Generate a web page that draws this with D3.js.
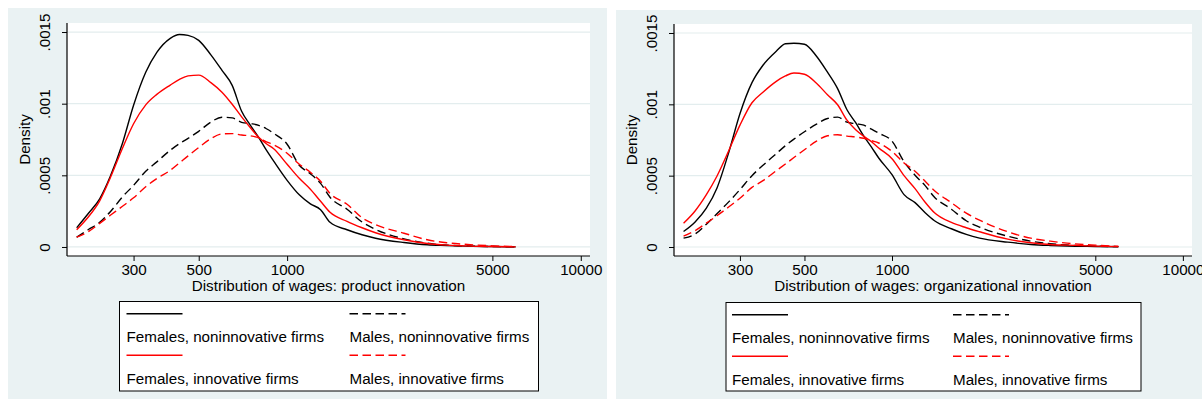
<!DOCTYPE html>
<html><head><meta charset="utf-8">
<script src="https://cdn.jsdelivr.net/npm/d3@7"></script>
<style>
html,body{margin:0;padding:0;background:#fff;}
svg{display:block;}
text{font-family:"Liberation Sans",Arial,Helvetica,sans-serif;}
</style>
</head><body>
<svg id="c" width="1202" height="403"></svg>
<script>
// ---------- data ----------
const wages = [192,210,230,250,275,300,330,360,400,430,460,500,550,600,650,700,750,800,850,900,1000,1100,1200,1300,1400,1600,1800,2000,2500,3000,3500,4000,5000,6000];

const yTicks = [0, 0.0005, 0.001, 0.0015];
const yTickLabels = ["0", ".0005", ".001", ".0015"];
const xTicks = [300, 500, 1000, 5000, 10000];
const xTickLabels = ["300", "500", "1000", "5000", "10000"];
const seriesNames = ["Females, noninnovative firms", "Males, noninnovative firms", "Females, innovative firms", "Males, innovative firms"];
const panelTitles = ["Distribution of wages: product innovation", "Distribution of wages: organizational innovation"];

// product innovation panel
const prodFemalesNon = [0.000134,0.000232,0.000336,0.000493,0.000724,0.000989,0.001219,0.001358,0.001456,0.001483,0.001477,0.001442,0.001341,0.001233,0.001128,0.000947,0.000849,0.000765,0.000675,0.000599,0.000465,0.000364,0.000301,0.000260,0.000172,0.000120,0.000085,0.000061,0.000031,0.000015,0.000010,0.000006,0.000003,0.000001];
const prodMalesNon   = [0.000068,0.000120,0.000172,0.000246,0.000350,0.000430,0.000528,0.000594,0.000675,0.000721,0.000758,0.000807,0.000872,0.000905,0.000901,0.000870,0.000861,0.000849,0.000825,0.000793,0.000717,0.000570,0.000511,0.000444,0.000347,0.000263,0.000174,0.000123,0.000057,0.000026,0.000012,0.000008,0.000003,0.000001];
const prodFemalesInn = [0.000120,0.000207,0.000322,0.000483,0.000689,0.000860,0.000992,0.001065,0.001130,0.001170,0.001194,0.001199,0.001147,0.001080,0.000996,0.000908,0.000832,0.000765,0.000720,0.000685,0.000577,0.000479,0.000403,0.000319,0.000242,0.000179,0.000134,0.000099,0.000050,0.000024,0.000013,0.000008,0.000003,0.000001];
const prodMalesInn   = [0.000068,0.000106,0.000165,0.000221,0.000284,0.000343,0.000420,0.000477,0.000535,0.000587,0.000636,0.000694,0.000756,0.000789,0.000791,0.000781,0.000776,0.000762,0.000734,0.000713,0.000654,0.000577,0.000521,0.000458,0.000373,0.000298,0.000204,0.000156,0.000096,0.000050,0.000029,0.000019,0.000008,0.000003];

// organizational innovation panel
const orgFemalesNon = [0.000109,0.000174,0.000272,0.000412,0.000668,0.000934,0.001152,0.001274,0.001372,0.001425,0.001428,0.001421,0.001337,0.001225,0.001110,0.000962,0.000871,0.000777,0.000700,0.000624,0.000507,0.000367,0.000311,0.000240,0.000184,0.000128,0.000088,0.000062,0.000034,0.000018,0.000011,0.000007,0.000004,0.000002];
const orgMalesNon   = [0.000062,0.000090,0.000160,0.000233,0.000318,0.000402,0.000500,0.000573,0.000654,0.000710,0.000756,0.000808,0.000861,0.000901,0.000910,0.000875,0.000864,0.000854,0.000826,0.000798,0.000742,0.000598,0.000503,0.000430,0.000349,0.000265,0.000184,0.000139,0.000076,0.000041,0.000023,0.000014,0.000006,0.000003];
const orgFemalesInn = [0.000167,0.000251,0.000367,0.000496,0.000678,0.000854,0.001011,0.001085,0.001161,0.001199,0.001220,0.001211,0.001148,0.001067,0.000997,0.000889,0.000822,0.000775,0.000738,0.000694,0.000619,0.000500,0.000409,0.000314,0.000240,0.000172,0.000135,0.000107,0.000055,0.000030,0.000018,0.000013,0.000006,0.000003];
const orgMalesInn   = [0.000076,0.000114,0.000167,0.000219,0.000282,0.000342,0.000418,0.000465,0.000535,0.000582,0.000627,0.000682,0.000742,0.000780,0.000787,0.000777,0.000771,0.000762,0.000745,0.000729,0.000670,0.000589,0.000531,0.000461,0.000395,0.000311,0.000237,0.000188,0.000107,0.000062,0.000041,0.000027,0.000013,0.000005];

// ---------- styles / layout ----------
const styles = [
  {color: "#000000", dash: null},
  {color: "#000000", dash: "8.5,4.5"},
  {color: "#ff0000", dash: null},
  {color: "#ff0000", dash: "8.5,4.5"}
];
const BG = "#eaf2f3";
const GRID = "#e3edee";

const panels = [
  {
    title: panelTitles[0],
    series: [prodFemalesNon, prodMalesNon, prodFemalesInn, prodMalesInn],
    bg: {x: 8, y: 8, w: 599, h: 391},
    plot: {x0: 67, x1: 590, y0: 23, y1: 256},
    legend: {x: 119.5, y: 301.5, w: 419, h: 89.5, pad: 7, col2: 223}
  },
  {
    title: panelTitles[1],
    series: [orgFemalesNon, orgMalesNon, orgFemalesInn, orgMalesInn],
    bg: {x: 616, y: 10, w: 586, h: 389},
    plot: {x0: 674, x1: 1192, y0: 24, y1: 256},
    legend: {x: 726, y: 302.5, w: 415, h: 88.5, pad: 6, col2: 221}
  }
];

const svg = d3.select("#c");
const FS = 15.2;
const FF = "'Liberation Sans',Arial,sans-serif";

panels.forEach(p => {
  const g = svg.append("g");
  g.append("rect").attr("x", p.bg.x).attr("y", p.bg.y).attr("width", p.bg.w).attr("height", p.bg.h).attr("fill", BG);
  g.append("rect").attr("x", p.plot.x0).attr("y", p.plot.y0)
    .attr("width", p.plot.x1 - p.plot.x0).attr("height", p.plot.y1 - p.plot.y0).attr("fill", "#fff");

  const x = d3.scaleLog().domain([178, 10750]).range([p.plot.x0, p.plot.x1]);
  const y = d3.scaleLinear().domain([-0.000063, 0.001563]).range([p.plot.y1, p.plot.y0]);

  // gridlines
  g.append("g").selectAll("line").data(yTicks).join("line")
    .attr("x1", p.plot.x0).attr("x2", p.plot.x1)
    .attr("y1", d => y(d)).attr("y2", d => y(d))
    .attr("stroke", GRID).attr("stroke-width", 1.2);

  // curves
  const line = d3.line().x((d, i) => x(wages[i])).y(d => y(d)).curve(d3.curveMonotoneX);
  p.series.forEach((s, k) => {
    g.append("path").attr("d", line(s)).attr("fill", "none")
      .attr("stroke", styles[k].color).attr("stroke-width", 1.4)
      .attr("stroke-dasharray", styles[k].dash);
  });

  // y axis
  const ya = d3.axisLeft(y).tickValues(yTicks).tickSize(5).tickFormat((d, i) => yTickLabels[i]);
  const yg = g.append("g").attr("transform", `translate(${p.plot.x0},0)`).call(ya);
  yg.select(".domain").attr("d", `M0,${p.plot.y0}V${p.plot.y1}`).attr("stroke", "#000").attr("stroke-width", 1.2);
  yg.selectAll(".tick line").attr("stroke", "#000").attr("stroke-width", 1);
  yg.selectAll(".tick text").attr("x", null).attr("dy", null)
    .attr("transform", "translate(-17,0) rotate(-90)")
    .attr("text-anchor", "middle").attr("font-size", FS).attr("fill", "#000")
    .attr("font-family", FF);

  // x axis
  const xa = d3.axisBottom(x).tickValues(xTicks).tickSize(5).tickFormat((d, i) => xTickLabels[i]);
  const xg = g.append("g").attr("transform", `translate(0,${p.plot.y1})`).call(xa);
  xg.select(".domain").attr("d", `M${p.plot.x0},0H${p.plot.x1}`).attr("stroke", "#000").attr("stroke-width", 1.2);
  xg.selectAll(".tick line").attr("stroke", "#000").attr("stroke-width", 1);
  xg.selectAll(".tick text").attr("y", 19).attr("dy", null)
    .attr("font-size", FS).attr("fill", "#000")
    .attr("font-family", FF);

  // axis titles
  g.append("text").attr("transform", `translate(${p.plot.x0 - 37},${(p.plot.y0 + p.plot.y1) / 2}) rotate(-90)`)
    .attr("text-anchor", "middle").attr("font-size", FS).text("Density");
  g.append("text").attr("x", (p.plot.x0 + p.plot.x1) / 2).attr("y", p.plot.y1 + 35)
    .attr("text-anchor", "middle").attr("font-size", FS).text(p.title);

  // legend
  const L = p.legend;
  g.append("rect").attr("x", L.x).attr("y", L.y).attr("width", L.w).attr("height", L.h)
    .attr("fill", "#fff").attr("stroke", "#000").attr("stroke-width", 1);
  seriesNames.forEach((name, k) => {
    const col = k % 2, row = Math.floor(k / 2);
    const lx = L.x + L.pad + col * L.col2;
    const ly = L.y + 12.2 + row * 41.6;
    g.append("line").attr("x1", lx).attr("x2", lx + 56).attr("y1", ly).attr("y2", ly)
      .attr("stroke", styles[k].color).attr("stroke-width", 1.4).attr("stroke-dasharray", styles[k].dash);
    g.append("text").attr("x", lx).attr("y", ly + 28.5).attr("font-size", FS).text(name);
  });
});
</script>
</body></html>
